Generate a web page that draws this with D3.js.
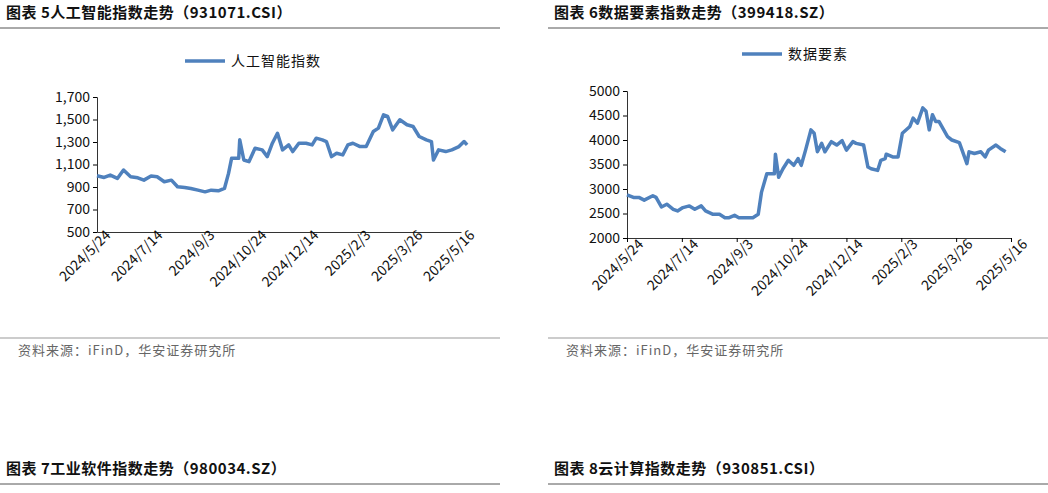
<!DOCTYPE html>
<html><head><meta charset="utf-8">
<script src="https://cdn.jsdelivr.net/npm/d3@7"></script>
<style>body{margin:0;background:#fff}text{font-family:"Noto Sans CJK SC",sans-serif}</style>
</head><body><svg id="c" width="1048" height="493"></svg>
<script>
// chart 5: 人工智能指数, day offset from 2024/5/24 and value
var aiDays = [0,7,13,20,26,33,40,46,53,59,66,73,79,86,92,99,106,112,119,125,129,132,139,140,144,149,155,162,167,172,177,182,188,192,198,205,211,215,221,225,230,235,241,246,251,258,264,271,276,281,285,290,297,304,310,316,323,328,330,335,342,348,355,360,363];
var aiVals = [1000,985,1006,976,1051,991,982,961,997,991,947,961,902,896,887,872,857,872,866,887,1021,1155,1155,1319,1140,1125,1244,1230,1170,1289,1378,1230,1274,1215,1289,1289,1274,1334,1319,1304,1170,1200,1185,1274,1289,1259,1259,1393,1423,1542,1527,1408,1498,1453,1438,1349,1319,1304,1140,1230,1215,1230,1259,1304,1274];
// chart 6: 数据要素, day offset and value
var dsDays = [0,6,11,16,24,27,32,37,43,47,52,58,63,69,73,80,86,91,95,100,104,111,117,122,125,130,137,138,141,145,150,155,159,162,166,171,174,177,181,184,190,195,200,204,210,213,220,224,227,233,236,240,241,247,252,256,263,266,270,275,278,281,284,287,290,298,302,309,316,318,323,329,333,336,343,347,352,357];
var dsVals = [2880,2828,2828,2772,2862,2828,2634,2690,2586,2552,2621,2655,2586,2655,2552,2483,2483,2414,2414,2462,2414,2414,2414,2483,2931,3310,3310,3710,3241,3414,3586,3483,3621,3483,3793,4207,4138,3759,3931,3759,3966,3897,3986,3793,3966,3931,3897,3448,3414,3379,3586,3621,3710,3655,3655,4138,4276,4448,4345,4655,4586,4207,4517,4379,4379,4069,4000,3945,3517,3759,3724,3759,3655,3793,3897,3828,3759];
var dateTicks = ["2024/5/24","2024/7/14","2024/9/3","2024/10/24","2024/12/14","2025/2/3","2025/3/26","2025/5/16"];
var titles = ["图表 5人工智能指数走势（931071.CSI）","图表 6数据要素指数走势（399418.SZ）","图表 7工业软件指数走势（980034.SZ）","图表 8云计算指数走势（930851.CSI）"];
var source = "资料来源：iFinD，华安证券研究所";

var svg = d3.select("#c");
var parse = d3.timeParse("%Y/%m/%d"), fmt = d3.timeFormat("%Y/%-m/%-d");
var start = parse("2024/5/24");
var blue = "#4f81bd";

// title bars
[[0,18,titles[0]],[548,18,titles[1]],[0,474,titles[2]],[548,474,titles[3]]].forEach(function(t){
    svg.append("text").attr("x", t[0]+6).attr("y", t[1]).attr("font-size", 15).attr("font-weight", "bold").attr("letter-spacing", 0.5).attr("fill", "#111").text(t[2]);
    svg.append("line").attr("x1", t[0]).attr("x2", t[0]+500).attr("y1", t[1]+10).attr("y2", t[1]+10).attr("stroke", "#555").attr("stroke-width", 1);
});
[0,548].forEach(function(x0){
    svg.append("line").attr("x1", x0).attr("x2", x0+500).attr("y1", 338).attr("y2", 338).attr("stroke", "#999");
    svg.append("text").attr("x", x0+18).attr("y", 355).attr("font-size", 13).attr("letter-spacing", 1).attr("fill", "#666").text(source);
});

function chart(opts){
    var x = d3.scaleTime().domain([start, parse("2025/5/16")]).range([opts.x0, opts.x1]);
    var y = d3.scaleLinear().domain(opts.dom).range([opts.yb, opts.yt]);
    var g = svg.append("g");
    var ya = g.append("g").attr("transform", "translate(" + opts.x0 + ",0)")
        .call(d3.axisLeft(y).tickValues(opts.yt_vals).tickSize(4).tickFormat(opts.fmt));
    ya.selectAll("text").attr("font-size", 14).attr("fill", "#111");
    ya.select(".domain").attr("stroke", "#333");
    var xa = g.append("g").attr("transform", "translate(0," + opts.yb + ")")
        .call(d3.axisBottom(x).tickValues(dateTicks.map(parse)).tickSize(opts.xtick).tickFormat(fmt));
    xa.select(".domain").attr("stroke", "#333");
    xa.selectAll("text").attr("font-size", 14).attr("fill", "#111")
        .attr("text-anchor", "end").attr("dx", "0.5em").attr("dy", "0.7em")
        .attr("transform", "rotate(-45)");
    var pts = opts.days.map(function(d, i){ return [d3.timeDay.offset(start, d), opts.vals[i]]; });
    g.append("path").datum(pts).attr("fill", "none").attr("stroke", blue).attr("stroke-width", 3.5)
        .attr("stroke-linejoin", "round")
        .attr("d", d3.line().x(function(d){ return x(d[0]); }).y(function(d){ return y(d[1]); }));
    g.append("line").attr("x1", opts.lx).attr("x2", opts.lx+40).attr("y1", opts.ly).attr("y2", opts.ly).attr("stroke", blue).attr("stroke-width", 3.5);
    g.append("text").attr("x", opts.lx+46).attr("y", opts.ly+5).attr("font-size", 14).attr("letter-spacing", 1).attr("fill", "#111").text(opts.name);
}

chart({x0:97, x1:461, yt:97, yb:232, dom:[500,1700], yt_vals:[500,700,900,1100,1300,1500,1700],
    fmt:d3.format(","), days:aiDays, vals:aiVals, xtick:0, lx:185, ly:61, name:"人工智能指数"});
chart({x0:627, x1:1011, yt:91, yb:238, dom:[2000,5000], yt_vals:[2000,2500,3000,3500,4000,4500,5000],
    fmt:d3.format("d"), days:dsDays, vals:dsVals, xtick:4, lx:742, ly:54, name:"数据要素"});
</script></body></html>
